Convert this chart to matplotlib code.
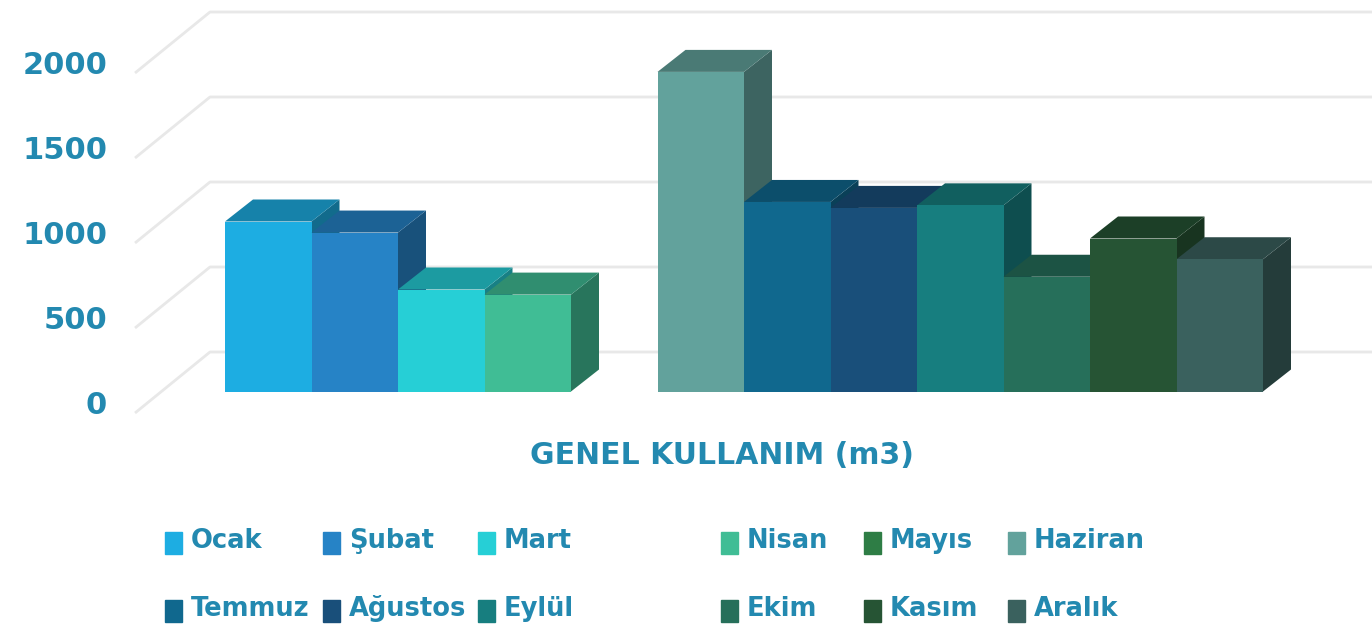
import numpy as np
from matplotlib import pyplot as plt
from matplotlib import colors as mcolors
from matplotlib.patches import Rectangle

months = ['Ocak', 'Şubat', 'Mart', 'Nisan', 'Mayıs', 'Haziran',
          'Temmuz', 'Ağustos', 'Eylül', 'Ekim', 'Kasım', 'Aralık']
usage = [1000, 935, 600, 570, 0, 1880, 1115, 1080, 1095, 675, 900, 778]
colors = ['#1dade2', '#2683c6', '#26cfd6', '#40bd95', '#2e7d45', '#62a29c',
          '#10688e', '#194f7a', '#177e7f', '#266f5a', '#265434', '#3a615e']
yticks = [0, 500, 1000, 1500, 2000]
title = 'GENEL KULLANIM (m3)'

txt_col = '#2389b0'
grid_col = '#e8e8e8'

# pixel scale of the fake 3d view
px_x = 86.5      # px per bar
px_y = 0.17      # px per m3
x0, y0 = 225, 391.5
W, H = 1372, 636

def dx(p):
    return p / px_x

def dy(p):
    return p / px_y

fig = plt.figure(figsize=(W / 100, H / 100), dpi=100)
ax = fig.add_axes([0, 0, 1, 1])
ax.set_xlim(-x0 / px_x, (W - x0) / px_x)
ax.set_ylim(-(H - y0) / px_y, y0 / px_y)
ax.axis('off')

# grid: slanted part from the label plane, then flat along the back wall
for v in yticks:
    xs = [dx(135 - x0), dx(210 - x0), (W - x0) / px_x + 1]
    ys = [v - dy(21.5), v + dy(39.5), v + dy(39.5)]
    ax.plot(xs, ys, color=grid_col, lw=2, zorder=1, solid_capstyle='butt')
    ax.text(dx(107 - x0), v - 85, str(v), ha='right', va='center',
            fontsize=22, fontweight='bold', color=txt_col)

# bars: front faces via ax.bar, top and side faces as polygons
idx = np.arange(len(usage))
bars = ax.bar(idx, usage, width=1, align='edge', color=colors, linewidth=0)
ddx, ddy = dx(28), dy(22)
for i, (b, v, c) in enumerate(zip(bars, usage, colors)):
    z = 3 + 3 * i
    b.set_zorder(z + 2)
    if v == 0:
        b.set_visible(False)
        continue
    rgb = np.array(mcolors.to_rgb(c))
    top = [i, i + 1, i + 1 + ddx, i + ddx]
    ax.fill(top, [v, v, v + ddy, v + ddy], color=rgb * 0.75, lw=0, zorder=z + 1)
    side = [i + 1, i + 1 + ddx, i + 1 + ddx, i + 1]
    ax.fill(side, [0, ddy, v + ddy, v], color=rgb * 0.62, lw=0, zorder=z)

fig.text(722 / W, 1 - 455 / H, title, ha='center', va='center',
         fontsize=21.5, fontweight='bold', color=txt_col)

# legend, two rows of six
leg_x = [165, 323, 478, 721, 864, 1008]
leg_y = [543, 611]
for k, (m, c) in enumerate(zip(months, colors)):
    lx = leg_x[k % 6]
    ly = leg_y[k // 6]
    fig.patches.append(Rectangle((lx / W, 1 - (ly + 11) / H), 17 / W, 22 / H,
                                 transform=fig.transFigure, color=c))
    fig.text((lx + 26) / W, 1 - (ly - 2) / H, m, ha='left', va='center',
             fontsize=18.5, fontweight='bold', color=txt_col)

plt.savefig('out.png', dpi=100)
